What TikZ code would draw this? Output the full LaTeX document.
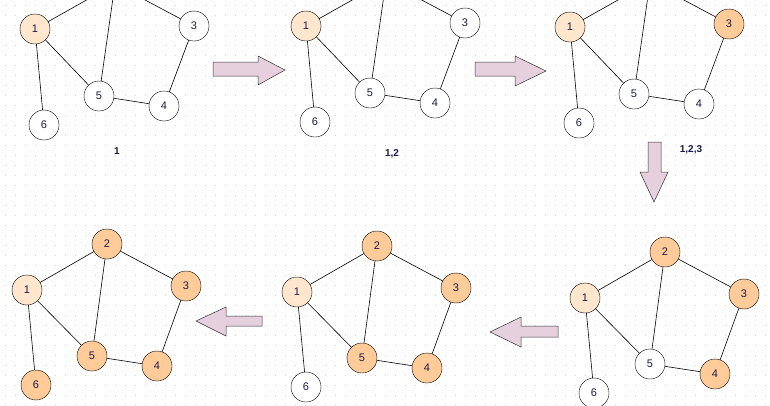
\documentclass[tikz,border=0pt]{standalone}
\usepackage{fontspec}
\setmainfont{Liberation Sans}
\definecolor{lt}{HTML}{FFE6CC}
\definecolor{og}{HTML}{FFCC99}
\definecolor{arr}{HTML}{E6D0DE}
\definecolor{txt}{HTML}{1A1A4A}
\tikzset{vx/.style={circle,draw=black,minimum size=30pt,inner sep=0pt,font=\fontsize{11}{11}\selectfont,text=txt},
 ed/.style={draw=black,line width=0.6pt},
 arrowbox/.style={draw=black!80,fill=arr,line width=0.5pt},
 lab/.style={font=\bfseries\fontsize{10}{10}\selectfont,text=txt}}
\newcommand\mygraph[9]{%
 \begin{scope}[shift={(#1,#2)}]
 \node[vx,fill=#3] (#9a) at (0,0) {1};
 \node[vx,fill=#4] (#9b) at (80,#8) {2};
 \node[vx,fill=#5] (#9c) at (159,-3) {3};
 \node[vx,fill=#6] (#9d) at (129,77) {4};
 \node[vx,fill=#7] (#9e) at (64,67) {5};
 \node[vx,fill=white] (#9f) at (9,96) {6};
 \draw[ed] (#9a)--(#9b) (#9a)--(#9e) (#9a)--(#9f) (#9b)--(#9c) (#9b)--(#9e) (#9c)--(#9d) (#9d)--(#9e);
 \end{scope}}
\newcommand\mygraphb[9]{%
 \begin{scope}[shift={(#1,#2)}]
 \node[vx,fill=#3] (#9a) at (0,0) {1};
 \node[vx,fill=#4] (#9b) at (80,-46) {2};
 \node[vx,fill=#5] (#9c) at (159,-4) {3};
 \node[vx,fill=#6] (#9d) at (130,76) {4};
 \node[vx,fill=#7] (#9e) at (65,66) {5};
 \node[vx,fill=#8] (#9f) at (9,95) {6};
 \draw[ed] (#9a)--(#9b) (#9a)--(#9e) (#9a)--(#9f) (#9b)--(#9c) (#9b)--(#9e) (#9c)--(#9d) (#9d)--(#9e);
 \end{scope}}
\begin{document}
\begin{tikzpicture}[x=1pt,y=-1pt]
\useasboundingbox (0,0) rectangle (770,405);
\clip (0,0) rectangle (770,405);
\fill[white] (0,0) rectangle (770,405);
\foreach \i in {0,...,76}{\foreach \j in {0,...,40}{\fill[black!18] (\i*10+5,\j*10+5) rectangle ++(1,1);}}
% top row
\mygraph{35}{29}{lt}{white}{white}{white}{white}{-45}{A}
\mygraph{306}{26}{lt}{og}{white}{white}{white}{-45}{B}
\mygraph{570}{27}{lt}{og}{og}{white}{white}{-45}{C}
% bottom row
\mygraphb{585}{298}{lt}{og}{og}{og}{white}{white}{D}
\mygraphb{297}{292}{lt}{og}{og}{og}{og}{white}{E}
\mygraphb{27}{290}{lt}{og}{og}{og}{og}{og}{F}
\node[lab] (l1) at (117,151) {1};
\node[lab] (l2) at (392,154) {1,2};
\node[lab] (l3) at (691,150) {1,2,3};
% arrows
\draw[arrowbox] (213,62)--(258,62)--(258,56)--(285,70)--(258,85)--(258,76)--(213,76)--cycle;
\draw[arrowbox] (475,62)--(515,62)--(515,56)--(546,71)--(515,86)--(515,76)--(475,76)--cycle;
\draw[arrowbox] (648,142)--(661,142)--(661,172)--(668,172)--(654,202)--(640,172)--(648,172)--cycle;
\draw[arrowbox] (262,316)--(226,316)--(226,307)--(196,321)--(226,336)--(226,326)--(262,326)--cycle;
\draw[arrowbox] (558,326)--(521,326)--(521,317)--(490,332)--(521,347)--(521,337)--(558,337)--cycle;
\end{tikzpicture}
\end{document}
